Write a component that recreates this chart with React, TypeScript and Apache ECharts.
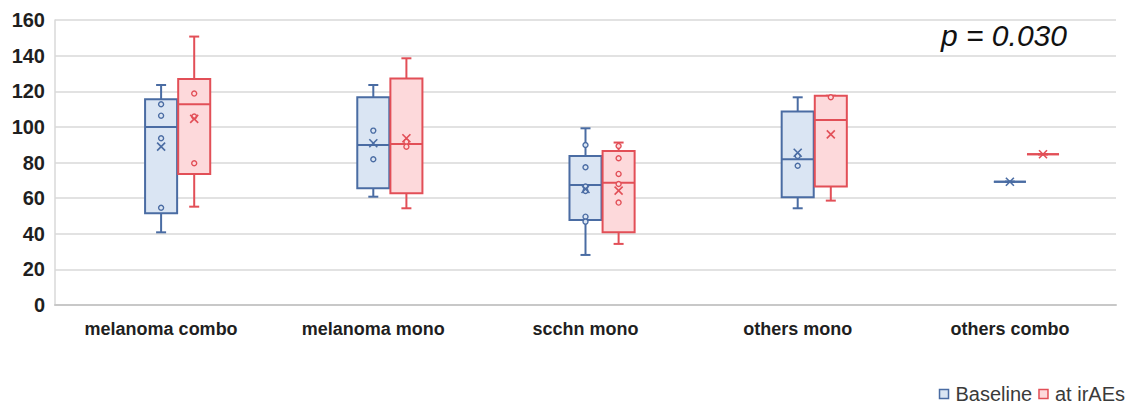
import React, { useEffect, useRef } from "react";
import * as echarts from "echarts";

const categories = ["melanoma combo", "melanoma mono", "scchn mono", "others mono", "others combo"];
const yTicks = [0, 20, 40, 60, 80, 100, 120, 140, 160];

// Baseline box statistics
const baselineMin = [40.8, 60.8, 28.1, 54.3, 69.2];
const baselineQ1 = [51.5, 65.5, 47.7, 60.5, 69.2];
const baselineMedian = [100, 89.8, 67.4, 81.8, 69.2];
const baselineQ3 = [115.5, 116.6, 83.7, 108.6, 69.2];
const baselineMax = [123.5, 123.5, 99.2, 116.6, 69.2];
const baselineMean = [88.9, 90.8, 65.1, 85.5, 69.2];
const baselinePoints = [
  [112.7, 106.3, 93.6, 54.6],
  [97.9, 81.8],
  [89.8, 77.3, 66.5, 64.0, 49.6, 46.8],
  [83.7, 78.2],
  [],
];

// at irAEs box statistics
const irAEMin = [55.2, 54.3, 34.3, 58.6, 84.6];
const irAEQ1 = [73.6, 62.7, 40.8, 66.5, 84.6];
const irAEMedian = [112.7, 90.4, 68.7, 103.9, 84.6];
const irAEQ3 = [126.9, 127.2, 86.5, 117.5, 84.6];
const irAEMax = [150.7, 138.5, 91.2, 117.5, 84.6];
const irAEMean = [104.5, 93.6, 64.2, 95.8, 84.6];
const irAEPoints = [
  [118.7, 105.8, 79.6],
  [91.7, 88.9],
  [89.3, 82.4, 73.6, 67.9, 57.5],
  [116.6],
  [],
];

const pValueText = "p = 0.030";

const BLUE = "#4a6ca3";
const BLUE_FILL = "#dae5f3";
const RED = "#e24f57";
const RED_FILL = "#fdd9db";

function buildRows(mins: number[], q1: number[], med: number[], q3: number[], max: number[], mean: number[]) {
  return categories.map((_, i) => [i, mins[i], q1[i], med[i], q3[i], max[i], mean[i]]);
}

function makeRender(points: number[][], offsetFrac: number, stroke: string, fill: string) {
  return (params: any, api: any) => {
    const idx = api.value(0);
    const band = api.size([1, 0])[0];
    const cx = api.coord([idx, 0])[0] + band * offsetFrac;
    const w = band * 0.151;
    const y = (v: number) => api.coord([idx, v])[1];
    const yMin = y(api.value(1));
    const yQ1 = y(api.value(2));
    const yMed = y(api.value(3));
    const yQ3 = y(api.value(4));
    const yMax = y(api.value(5));
    const yMean = y(api.value(6));
    const cap = 5;
    const lineStyle = { stroke, lineWidth: 2 };
    const children: any[] = [
      { type: "line", shape: { x1: cx, y1: yQ3, x2: cx, y2: yMax }, style: lineStyle },
      { type: "line", shape: { x1: cx - cap, y1: yMax, x2: cx + cap, y2: yMax }, style: lineStyle },
      { type: "line", shape: { x1: cx, y1: yQ1, x2: cx, y2: yMin }, style: lineStyle },
      { type: "line", shape: { x1: cx - cap, y1: yMin, x2: cx + cap, y2: yMin }, style: lineStyle },
      {
        type: "rect",
        shape: { x: cx - w / 2, y: yQ3, width: w, height: yQ1 - yQ3 },
        style: { fill, stroke, lineWidth: 2 },
      },
      { type: "line", shape: { x1: cx - w / 2, y1: yMed, x2: cx + w / 2, y2: yMed }, style: lineStyle },
    ];
    const pts = points[params.dataIndex] || [];
    pts.forEach((v) => {
      children.push({
        type: "circle",
        shape: { cx, cy: y(v), r: 2.5 },
        style: { fill: fill, stroke, lineWidth: 1.4 },
      });
    });
    const m = 4;
    children.push(
      { type: "line", shape: { x1: cx - m, y1: yMean - m, x2: cx + m, y2: yMean + m }, style: { stroke, lineWidth: 1.6 } },
      { type: "line", shape: { x1: cx - m, y1: yMean + m, x2: cx + m, y2: yMean - m }, style: { stroke, lineWidth: 1.6 } }
    );
    return { type: "group", children };
  };
}

export default function App() {
  const ref = useRef<HTMLDivElement>(null);

  useEffect(() => {
    if (!ref.current) return;
    const chart = echarts.init(ref.current, null, { renderer: "svg" });
    const labelFont = "'Liberation Sans', Arial, sans-serif";
    chart.setOption({
      animation: false,
      backgroundColor: "#ffffff",
      grid: { left: 55, right: 22, top: 20, bottom: 105, containLabel: false },
      legend: {
        right: 8,
        bottom: 1,
        itemWidth: 9,
        itemHeight: 9,
        itemGap: 6,
        icon: "rect",
        textStyle: { fontSize: 20, color: "#3a3a3a", fontFamily: labelFont, padding: [0, 0, 0, 2] },
        data: [
          { name: "Baseline", itemStyle: { color: BLUE_FILL, borderColor: BLUE, borderWidth: 1.5 } },
          { name: "at irAEs", itemStyle: { color: RED_FILL, borderColor: RED, borderWidth: 1.5 } },
        ],
      },
      xAxis: {
        type: "category",
        data: categories,
        boundaryGap: true,
        axisLine: { show: true, lineStyle: { color: "#c8c8c8", width: 2 } },
        axisTick: { show: false },
        axisLabel: {
          fontSize: 18,
          fontWeight: "bold",
          color: "#1f1f1f",
          fontFamily: labelFont,
          margin: 15,
          interval: 0,
        },
        splitLine: { show: false },
      },
      yAxis: {
        type: "value",
        min: yTicks[0],
        max: yTicks[yTicks.length - 1],
        interval: 20,
        axisLine: { show: true, lineStyle: { color: "#d9d9d9", width: 1.5 } },
        axisTick: { show: false },
        axisLabel: {
          fontSize: 20,
          fontWeight: "bold",
          color: "#1f1f1f",
          fontFamily: labelFont,
          margin: 10,
        },
        splitLine: { show: true, lineStyle: { color: "#d9d9d9", width: 1.5 } },
      },
      graphic: [
        {
          type: "text",
          left: 941,
          top: 20,
          style: {
            text: pValueText,
            fontSize: 30,
            fontStyle: "italic",
            fontFamily: labelFont,
            fill: "#111111",
          },
        },
      ],
      series: [
        {
          name: "Baseline",
          type: "custom",
          itemStyle: { color: BLUE_FILL, borderColor: BLUE },
          encode: { x: 0, y: [1, 2, 3, 4, 5, 6] },
          data: buildRows(baselineMin, baselineQ1, baselineMedian, baselineQ3, baselineMax, baselineMean),
          renderItem: makeRender(baselinePoints, 0, BLUE, BLUE_FILL),
        },
        {
          name: "at irAEs",
          type: "custom",
          itemStyle: { color: RED_FILL, borderColor: RED },
          encode: { x: 0, y: [1, 2, 3, 4, 5, 6] },
          data: buildRows(irAEMin, irAEQ1, irAEMedian, irAEQ3, irAEMax, irAEMean),
          renderItem: makeRender(irAEPoints, 0.156, RED, RED_FILL),
        },
      ],
    });
    return () => chart.dispose();
  }, []);

  return (
    <div
      ref={ref}
      style={{ position: "fixed", left: 0, top: 0, width: 1138, height: 410, background: "#fff" }}
    />
  );
}
